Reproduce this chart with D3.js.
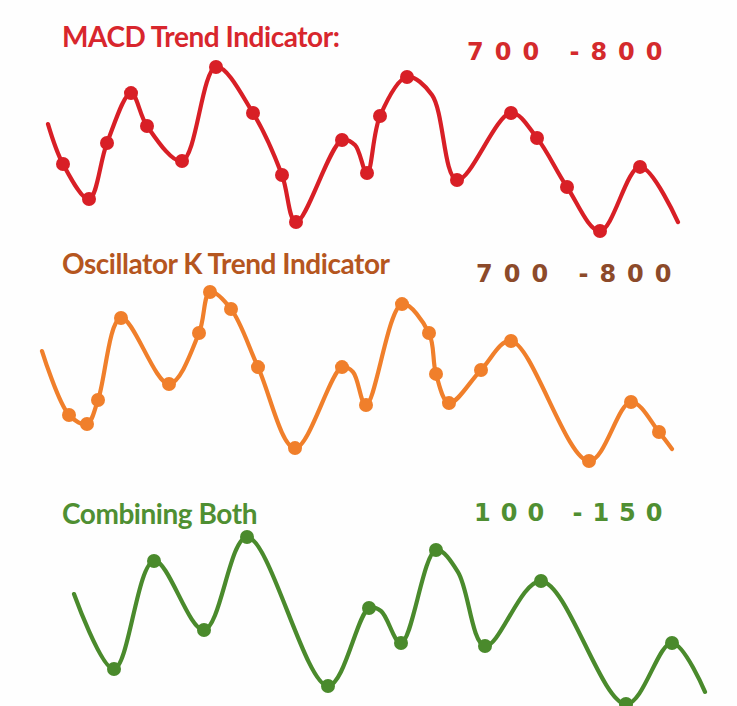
<!DOCTYPE html>
<html>
<head>
<meta charset="utf-8">
<script src="https://cdn.jsdelivr.net/npm/d3@7"></script>
<style>
  html, body { margin: 0; padding: 0; background: #ffffff; }
  svg { display: block; }
</style>
</head>
<body>
<div id="chart"></div>
<script>
// ---------- DATA ----------
// Panel titles and range labels
const panelTitles = ["MACD Trend Indicator:", "Oscillator K Trend Indicator", "Combining Both"];
const rangeLabels = ["700 -800", "700 -800", "100 -150"];

// MACD series (x = time units, v = indicator level 0-100, dot = marker shown)
const macdX   = [0.8, 2.3, 4.9, 6.7, 9.1, 10.7, 14.2, 17.6, 21.3, 24.2, 25.6, 30.2, 31.5, 32.7, 34.0, 36.7, 39.2, 41.7, 47.1, 49.7, 52.7, 56.0, 60.0, 63.8];
const macdV   = [63.4, 40.6, 20.6, 52.6, 81.1, 62.3, 42.3, 96.0, 69.7, 34.3, 7.4, 54.3, 51.4, 35.4, 68.0, 90.3, 80.0, 31.4, 69.7, 55.4, 27.4, 2.3, 38.9, 7.4];
const macdDot = [0, 1, 1, 1, 1, 1, 1, 1, 1, 1, 1, 1, 0, 1, 1, 1, 0, 1, 1, 1, 1, 1, 1, 0];

// Oscillator K series
const oscX   = [0.2, 2.9, 4.7, 5.8, 8.1, 12.9, 15.9, 17.0, 19.1, 21.8, 25.5, 30.2, 31.3, 32.6, 36.2, 38.9, 39.6, 40.9, 44.1, 47.1, 54.9, 59.1, 61.9, 63.2];
const oscV   = [63.3, 27.8, 22.8, 36.1, 81.7, 45.0, 73.3, 96.1, 86.7, 54.4, 9.4, 54.4, 51.7, 33.3, 89.4, 73.3, 50.6, 34.4, 52.8, 68.9, 2.2, 35.0, 18.3, 8.9];
const oscDot = [0, 1, 1, 1, 1, 1, 1, 1, 1, 1, 1, 1, 0, 1, 1, 1, 1, 1, 1, 1, 1, 1, 1, 0];

// Combined series
const bothX   = [3.4, 7.4, 11.4, 16.4, 20.7, 28.8, 32.9, 34.1, 36.1, 39.6, 41.8, 44.5, 50.1, 58.6, 63.2, 66.5];
const bothV   = [63.6, 21.0, 82.4, 43.2, 96.0, 11.4, 55.7, 54.0, 35.8, 88.6, 76.1, 34.1, 71.0, 1.1, 35.8, 8.0];
const bothDot = [0, 1, 1, 1, 1, 1, 1, 0, 1, 1, 0, 1, 1, 1, 1, 0];

// ---------- LAYOUT / STYLE ----------
const W = 737, H = 706;
const panels = [
  { title: panelTitles[0], range: rangeLabels[0], xs: macdX, vs: macdV, dots: macdDot,
    top: 60, bottom: 235, line: "#d81f26", titleColor: "#d8262d", rangeColor: "#d42a2c",
    titleY: 47, rangeX: 467, rangeY: 60, ls: 11 },
  { title: panelTitles[1], range: rangeLabels[1], xs: oscX, vs: oscV, dots: oscDot,
    top: 285, bottom: 465, line: "#f07f2b", titleColor: "#b5561f", rangeColor: "#8c4a2a",
    titleY: 274, rangeX: 476, rangeY: 282, ls: 11 },
  { title: panelTitles[2], range: rangeLabels[2], xs: bothX, vs: bothV, dots: bothDot,
    top: 530, bottom: 706, line: "#4a8a2c", titleColor: "#4f8f32", rangeColor: "#4f8f32",
    titleY: 524, rangeX: 474, rangeY: 521, ls: 10 }
];

const svg = d3.select("#chart").append("svg")
  .attr("width", W).attr("height", H);

svg.append("rect").attr("width", W).attr("height", H).attr("fill", "#fefefe");

const x = d3.scaleLinear().domain([0, 67]).range([40, 710]);

panels.forEach(p => {
  const y = d3.scaleLinear().domain([0, 100]).range([p.bottom, p.top]);
  const pts = p.xs.map((xv, i) => ({ x: xv, v: p.vs[i], dot: p.dots[i] }));
  const g = svg.append("g");

  g.append("text")
    .attr("x", 62).attr("y", p.titleY)
    .attr("font-family", "Lato, 'Open Sans', sans-serif")
    .attr("font-weight", 700)
    .attr("font-size", 28)
    .attr("letter-spacing", -0.45)
    .attr("fill", p.titleColor)
    .text(p.title);

  g.append("text")
    .attr("x", p.rangeX).attr("y", p.rangeY)
    .attr("font-family", "'DejaVu Sans', sans-serif")
    .attr("font-weight", 700)
    .attr("font-size", 24)
    .attr("letter-spacing", p.ls)
    .attr("fill", p.rangeColor)
    .text(p.range);

  const line = d3.line()
    .x(d => x(d.x)).y(d => y(d.v))
    .curve(d3.curveCatmullRom.alpha(0.5));

  g.append("path")
    .datum(pts)
    .attr("fill", "none")
    .attr("stroke", p.line)
    .attr("stroke-width", 4.2)
    .attr("stroke-linecap", "round")
    .attr("stroke-linejoin", "round")
    .attr("d", line);

  g.selectAll("circle")
    .data(pts.filter(d => d.dot))
    .join("circle")
    .attr("cx", d => x(d.x)).attr("cy", d => y(d.v))
    .attr("r", 7)
    .attr("fill", p.line);
});
</script>
</body>
</html>
